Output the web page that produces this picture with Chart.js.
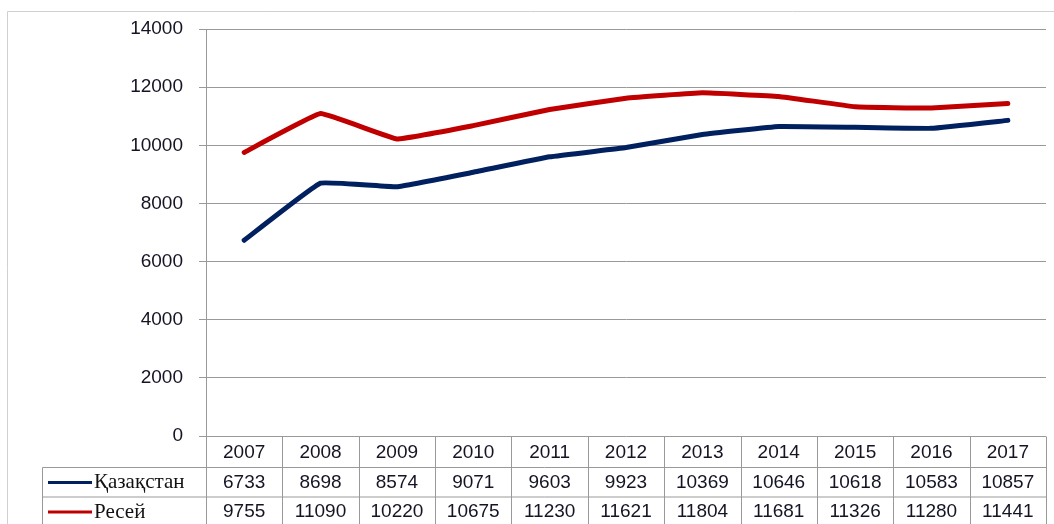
<!DOCTYPE html>
<html>
<head>
<meta charset="utf-8">
<script src="https://cdn.jsdelivr.net/npm/chart.js@4"></script>
<style>
html,body{margin:0;padding:0;background:#fff;}
#wrap{position:relative;width:1054px;height:524px;}
</style>
</head>
<body>
<div id="wrap"><canvas id="c" width="1054" height="524"></canvas></div>
<script>
const years = ['2007','2008','2009','2010','2011','2012','2013','2014','2015','2016','2017'];
const kazakhstan = [6733, 8698, 8574, 9071, 9603, 9923, 10369, 10646, 10618, 10583, 10857];
const russia = [9755, 11090, 10220, 10675, 11230, 11621, 11804, 11681, 11326, 11280, 11441];
const seriesNames = ['Қазақстан', 'Ресей'];
const seriesColors = ['#002060', '#c00000'];
const yTicks = [0, 2000, 4000, 6000, 8000, 10000, 12000, 14000];

const GRID = '#999999';
const TEXT = '#141424';

const tablePlugin = {
  id: 'dataTable',
  beforeDraw(chart) {
    const ctx = chart.ctx;
    ctx.save();
    ctx.strokeStyle = '#d0d0d0';
    ctx.lineWidth = 1;
    ctx.beginPath();
    ctx.moveTo(7.5, 524);
    ctx.lineTo(7.5, 11.5);
    ctx.lineTo(1054, 11.5);
    ctx.stroke();
    ctx.restore();
  },
  afterDraw(chart) {
    const ctx = chart.ctx;
    const x = chart.scales.x;
    const area = chart.chartArea;
    const left = Math.round(area.left) + 0.5;
    const right = Math.round(area.right) + 0.5;
    const top = Math.round(area.bottom) + 0.5;
    const rowH = 29.5;
    const r1 = top + 31;
    const r2 = r1 + rowH;
    const legendLeft = 42.5;
    ctx.save();
    ctx.strokeStyle = GRID;
    ctx.lineWidth = 1;
    ctx.beginPath();
    ctx.moveTo(legendLeft, r1); ctx.lineTo(right, r1);
    ctx.moveTo(legendLeft, r2); ctx.lineTo(right, r2);
    ctx.moveTo(legendLeft, r1); ctx.lineTo(legendLeft, 524);
    for (let i = 0; i <= years.length; i++) {
      let bx;
      if (i === 0) bx = left;
      else if (i === years.length) bx = right;
      else bx = Math.round((x.getPixelForValue(i - 1) + x.getPixelForValue(i)) / 2) + 0.5;
      ctx.moveTo(bx, top); ctx.lineTo(bx, 524);
    }
    ctx.stroke();

    ctx.fillStyle = TEXT;
    ctx.font = '19px "Liberation Sans", Arial, sans-serif';
    ctx.textAlign = 'center';
    ctx.textBaseline = 'middle';
    const rowsY = [top + 16, r1 + 15, r2 + 15];
    const data = [kazakhstan, russia];
    years.forEach((y, i) => {
      const cx = x.getPixelForValue(i);
      ctx.fillText(y, cx, rowsY[0]);
      ctx.fillText(String(data[0][i]), cx, rowsY[1]);
      ctx.fillText(String(data[1][i]), cx, rowsY[2]);
    });

    ctx.font = '21px "Liberation Serif", "Times New Roman", serif';
    ctx.textAlign = 'left';
    seriesNames.forEach((name, k) => {
      const yy = rowsY[k + 1];
      ctx.strokeStyle = seriesColors[k];
      ctx.lineWidth = 3;
      ctx.beginPath();
      ctx.moveTo(48, yy); ctx.lineTo(92, yy);
      ctx.stroke();
      ctx.fillStyle = '#111';
      ctx.fillText(name, 94, yy);
    });
    ctx.restore();
  }
};

new Chart(document.getElementById('c'), {
  type: 'line',
  data: {
    labels: years,
    datasets: [
      { label: seriesNames[0], data: kazakhstan, borderColor: seriesColors[0], borderWidth: 5, pointRadius: 0, tension: 0.08, borderCapStyle: 'round', borderJoinStyle: 'round' },
      { label: seriesNames[1], data: russia, borderColor: seriesColors[1], borderWidth: 5, pointRadius: 0, tension: 0.08, borderCapStyle: 'round', borderJoinStyle: 'round' }
    ]
  },
  options: {
    responsive: false,
    animation: false,
    devicePixelRatio: 1,
    layout: { padding: { left: 0, right: 8, top: 29, bottom: 88 } },
    plugins: { legend: { display: false }, tooltip: { enabled: false } },
    scales: {
      x: {
        display: false,
        offset: true
      },
      y: {
        min: 0,
        max: 14000,
        afterFit(s) { s.width = 206; },
        afterBuildTicks(s) { s.ticks = yTicks.map(v => ({ value: v })); },
        border: { display: true, color: GRID, width: 1 },
        grid: { color: GRID, lineWidth: 1, tickLength: 7, drawTicks: true },
        ticks: {
          padding: 16,
          color: TEXT,
          font: { family: '"Liberation Sans", Arial, sans-serif', size: 19 },
          callback: v => String(v)
        }
      }
    }
  },
  plugins: [tablePlugin]
});
</script>
</body>
</html>
